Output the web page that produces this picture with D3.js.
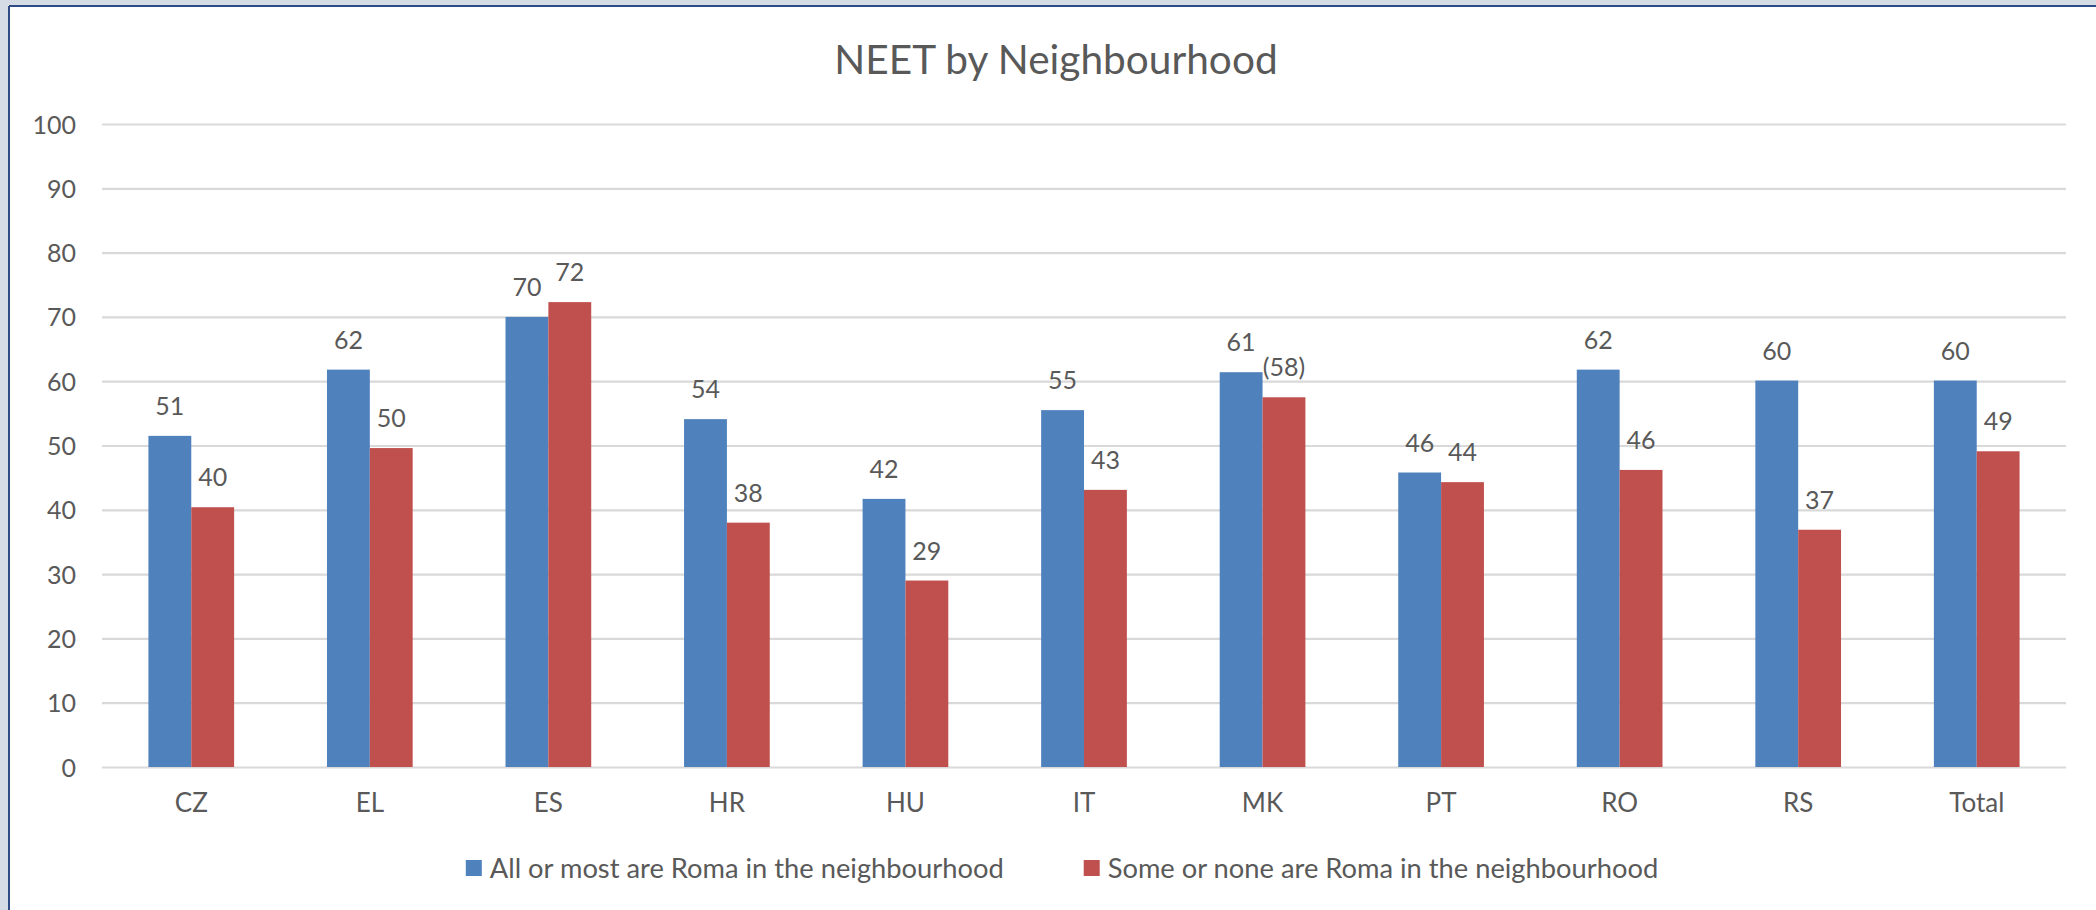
<!DOCTYPE html>
<html>
<head>
<meta charset="utf-8">
<script src="https://cdn.jsdelivr.net/npm/d3@7"></script>
<style>
  html, body { margin: 0; padding: 0; background: #D6DCE5; }
  svg { display: block; }
  text { font-family: Lato, "Open Sans", sans-serif; fill: #595959; }
</style>
</head>
<body>
<svg id="chart" width="2096" height="910"></svg>
<script>
const categories = ["CZ","EL","ES","HR","HU","IT","MK","PT","RO","RS","Total"];
const seriesNames = ["All or most are Roma in the neighbourhood", "Some or none are Roma in the neighbourhood"];
const allOrMost = [51.5, 61.8, 70.0, 54.1, 41.7, 55.5, 61.4, 45.8, 61.8, 60.1, 60.1];
const someOrNone = [40.4, 49.6, 72.3, 38.0, 29.0, 43.1, 57.5, 44.3, 46.2, 36.9, 49.1];
const allOrMostLabels = ["51","62","70","54","42","55","61","46","62","60","60"];
const someOrNoneLabels = ["40","50","72","38","29","43","(58)","44","46","37","49"];
const yTicks = [0,10,20,30,40,50,60,70,80,90,100];
const title = "NEET by Neighbourhood";
const colors = ["#4F81BD", "#C0504D"];

const svg = d3.select("#chart");
// chart area frame
svg.append("rect").attr("x", 8).attr("y", 5).attr("width", 2200).attr("height", 1000).attr("fill", "#FFFFFF");
svg.append("line").attr("x1", 9).attr("x2", 2096).attr("y1", 6).attr("y2", 6).attr("stroke", "#2F4B85").attr("stroke-width", 2);
svg.append("line").attr("x1", 9).attr("x2", 9).attr("y1", 6).attr("y2", 910).attr("stroke", "#2F4B85").attr("stroke-width", 2);

const plotLeft = 102, plotRight = 2066, plotTop = 124, plotBottom = 767;

const x = d3.scaleBand().domain(categories).range([plotLeft, plotRight]).paddingInner(0.52).paddingOuter(0.26);
const xs = d3.scaleBand().domain([0,1]).range([0, x.bandwidth()]);
const y = d3.scaleLinear().domain([0, 100]).range([plotBottom, plotTop]);

// gridlines
const yAxis = d3.axisLeft(y).tickValues(yTicks).tickSize(-(plotRight - plotLeft)).tickPadding(26).tickFormat(d3.format("d"));
const gy = svg.append("g").attr("transform", `translate(${plotLeft},0)`).call(yAxis);
gy.select(".domain").remove();
gy.selectAll(".tick line").attr("stroke", "#D9D9D9").attr("stroke-width", 2.2);
gy.selectAll(".tick text").attr("font-size", 25).attr("fill", "#595959").attr("dy", "0.36em").attr("x", -26);

// x axis labels
const xAxis = d3.axisBottom(x).tickSize(0).tickPadding(0);
const gx = svg.append("g").attr("transform", `translate(0,${plotBottom})`).call(xAxis);
gx.select(".domain").remove();
gx.selectAll(".tick text").attr("font-size", 26).attr("fill", "#595959").attr("y", 36).attr("dy", "0.36em");

const series = [
  {values: allOrMost, labels: allOrMostLabels},
  {values: someOrNone, labels: someOrNoneLabels}
];

series.forEach((s, si) => {
  const g = svg.append("g");
  g.selectAll("rect").data(categories).join("rect")
    .attr("x", (c) => x(c) + xs(si))
    .attr("width", xs.bandwidth())
    .attr("y", (c, i) => y(s.values[i]))
    .attr("height", (c, i) => y(0) - y(s.values[i]))
    .attr("fill", colors[si]);
  g.selectAll("text").data(categories).join("text")
    .attr("x", (c) => x(c) + xs(si) + xs.bandwidth() / 2)
    .attr("y", (c, i) => y(s.values[i]) - 30)
    .attr("dy", "0.36em")
    .attr("text-anchor", "middle")
    .attr("font-size", 25)
    .text((c, i) => s.labels[i]);
});

// title
svg.append("text").attr("x", 1056).attr("y", 74).attr("text-anchor", "middle")
  .attr("font-size", 40.6).text(title);

// legend
const legend = svg.append("g");
let cx = 0;
const gap = 80;
seriesNames.forEach((n, i) => {
  const item = legend.append("g").attr("transform", `translate(${cx},0)`);
  item.append("rect").attr("x", 0).attr("y", -8).attr("width", 16).attr("height", 16).attr("fill", colors[i]);
  const t = item.append("text").attr("x", 24).attr("y", 0).attr("dy", "0.36em").attr("font-size", 27.3).text(n);
  const w = t.node().getComputedTextLength();
  cx += 24 + w + gap;
});
const totalW = cx - gap;
legend.attr("transform", `translate(${1062 - totalW / 2},868)`);
</script>
</body>
</html>
